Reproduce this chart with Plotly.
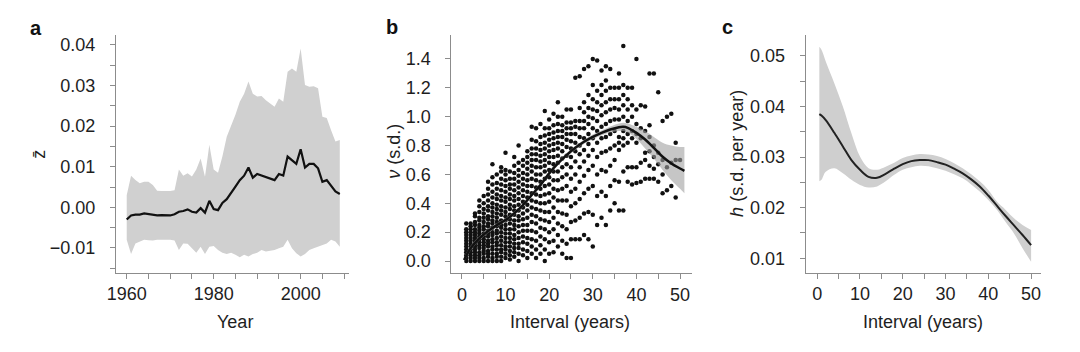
import plotly.graph_objects as go

# ---------------- Panel a data ----------------
years = [1960, 1961, 1962, 1963, 1964, 1965, 1966, 1967, 1968, 1969,
         1970, 1971, 1972, 1973, 1974, 1975, 1976, 1977, 1978, 1979,
         1980, 1981, 1982, 1983, 1984, 1985, 1986, 1987, 1988, 1989,
         1990, 1991, 1992, 1993, 1994, 1995, 1996, 1997, 1998, 1999,
         2000, 2001, 2002, 2003, 2004, 2005, 2006, 2007, 2008, 2009]
z_mean = [-0.0030, -0.0020, -0.0018, -0.0018, -0.0015, -0.0017, -0.0019, -0.0020, -0.0019, -0.0020,
          -0.0020, -0.0017, -0.0011, -0.0009, -0.0005, -0.0011, -0.0013, -0.0002, -0.0013, 0.0016,
          -0.0004, -0.0007, 0.0011, 0.0020, 0.0034, 0.0051, 0.0067, 0.0078, 0.0098, 0.0073,
          0.0082, 0.0078, 0.0075, 0.0072, 0.0067, 0.0082, 0.0078, 0.0125, 0.0117, 0.0107,
          0.0143, 0.0098, 0.0107, 0.0107, 0.0096, 0.0063, 0.0067, 0.0053, 0.0039, 0.0033]
z_upper = [0.0030, 0.0078, 0.0067, 0.0059, 0.0063, 0.0063, 0.0055, 0.0041, 0.0040, 0.0040,
           0.0040, 0.0042, 0.0093, 0.0078, 0.0084, 0.0076, 0.0093, 0.0120, 0.0075, 0.0154,
           0.0093, 0.0085, 0.0125, 0.0174, 0.0199, 0.0228, 0.0260, 0.0280, 0.0310, 0.0280,
           0.0273, 0.0274, 0.0264, 0.0256, 0.0248, 0.0268, 0.0260, 0.0334, 0.0342, 0.0334,
           0.0391, 0.0301, 0.0297, 0.0298, 0.0293, 0.0223, 0.0220, 0.0190, 0.0162, 0.0166]
z_lower = [-0.0080, -0.0115, -0.0089, -0.0085, -0.0080, -0.0081, -0.0082, -0.0080, -0.0080, -0.0080,
           -0.0080, -0.0082, -0.0105, -0.0089, -0.0090, -0.0101, -0.0112, -0.0097, -0.0115, -0.0097,
           -0.0095, -0.0105, -0.0112, -0.0115, -0.0112, -0.0117, -0.0123, -0.0117, -0.0121, -0.0115,
           -0.0112, -0.0105, -0.0109, -0.0107, -0.0105, -0.0101, -0.0097, -0.0080, -0.0101, -0.0113,
           -0.0121, -0.0115, -0.0105, -0.0101, -0.0097, -0.0093, -0.0089, -0.0080, -0.0084, -0.0097]

# ---------------- Panel b data ----------------
nu_by_interval = [
    [0.0, 0.02, 0.04, 0.06, 0.08, 0.10, 0.12, 0.14, 0.16, 0.18, 0.20, 0.22, 0.26],
    [0.0, 0.02, 0.04, 0.06, 0.08, 0.10, 0.12, 0.14, 0.16, 0.18, 0.20, 0.22, 0.24, 0.26],
    [0.0, 0.02, 0.04, 0.06, 0.08, 0.10, 0.12, 0.14, 0.16, 0.18, 0.20, 0.22, 0.25, 0.27, 0.31, 0.33],
    [0.0, 0.02, 0.04, 0.06, 0.09, 0.11, 0.13, 0.15, 0.17, 0.19, 0.21, 0.23, 0.25, 0.28, 0.30, 0.34, 0.38, 0.42],
    [0.0, 0.02, 0.05, 0.07, 0.09, 0.11, 0.13, 0.15, 0.17, 0.19, 0.22, 0.24, 0.27, 0.30, 0.33, 0.36, 0.40, 0.45],
    [0.0, 0.03, 0.05, 0.07, 0.10, 0.12, 0.14, 0.17, 0.19, 0.21, 0.24, 0.26, 0.29, 0.31, 0.35, 0.38, 0.42, 0.46, 0.50, 0.55],
    [0.0, 0.02, 0.05, 0.08, 0.10, 0.13, 0.15, 0.18, 0.20, 0.23, 0.26, 0.28, 0.31, 0.34, 0.37, 0.40, 0.44, 0.48, 0.53, 0.58, 0.67],
    [0.0, 0.03, 0.05, 0.08, 0.11, 0.13, 0.16, 0.19, 0.21, 0.24, 0.27, 0.30, 0.33, 0.36, 0.39, 0.43, 0.46, 0.50, 0.54, 0.60],
    [0.0, 0.03, 0.06, 0.08, 0.11, 0.14, 0.17, 0.20, 0.23, 0.25, 0.28, 0.32, 0.35, 0.38, 0.42, 0.45, 0.49, 0.53, 0.57, 0.62, 0.65],
    [0.02, 0.05, 0.08, 0.10, 0.13, 0.16, 0.19, 0.22, 0.25, 0.28, 0.31, 0.34, 0.37, 0.41, 0.44, 0.48, 0.52, 0.56, 0.60, 0.63, 0.75],
    [0.01, 0.04, 0.07, 0.10, 0.13, 0.16, 0.19, 0.22, 0.26, 0.29, 0.32, 0.36, 0.39, 0.43, 0.46, 0.50, 0.53, 0.57, 0.62],
    [0.03, 0.06, 0.09, 0.12, 0.15, 0.18, 0.22, 0.25, 0.28, 0.32, 0.35, 0.38, 0.42, 0.45, 0.49, 0.53, 0.57, 0.61, 0.66, 0.72],
    [0.0, 0.05, 0.09, 0.12, 0.16, 0.20, 0.24, 0.28, 0.31, 0.35, 0.39, 0.43, 0.47, 0.51, 0.55, 0.59, 0.63, 0.68, 0.80],
    [0.04, 0.08, 0.13, 0.17, 0.21, 0.25, 0.29, 0.33, 0.37, 0.41, 0.45, 0.49, 0.53, 0.57, 0.61, 0.66, 0.70],
    [0.02, 0.07, 0.12, 0.16, 0.21, 0.25, 0.30, 0.35, 0.39, 0.44, 0.48, 0.52, 0.56, 0.60, 0.64, 0.68, 0.72, 0.76],
    [0.05, 0.10, 0.15, 0.21, 0.27, 0.32, 0.37, 0.42, 0.47, 0.52, 0.57, 0.62, 0.66, 0.70, 0.74, 0.78, 0.84, 0.93],
    [0.02, 0.08, 0.14, 0.20, 0.26, 0.31, 0.36, 0.41, 0.46, 0.51, 0.56, 0.60, 0.65, 0.70, 0.74, 0.78, 0.83, 0.92],
    [0.05, 0.11, 0.17, 0.23, 0.29, 0.35, 0.40, 0.45, 0.50, 0.55, 0.60, 0.65, 0.69, 0.73, 0.77, 0.81, 0.86, 0.95],
    [0.0, 0.08, 0.15, 0.22, 0.28, 0.34, 0.40, 0.46, 0.52, 0.57, 0.62, 0.66, 0.70, 0.74, 0.78, 0.82, 0.87, 0.92, 1.04],
    [0.05, 0.13, 0.20, 0.27, 0.34, 0.41, 0.47, 0.53, 0.58, 0.63, 0.68, 0.72, 0.76, 0.80, 0.84, 0.88, 0.92, 0.98],
    [0.06, 0.14, 0.22, 0.30, 0.37, 0.44, 0.50, 0.56, 0.62, 0.67, 0.72, 0.77, 0.81, 0.85, 0.89, 0.94, 1.02],
    [0.10, 0.18, 0.26, 0.34, 0.42, 0.49, 0.56, 0.62, 0.68, 0.73, 0.78, 0.82, 0.86, 0.90, 0.95, 1.00, 1.10],
    [0.05, 0.14, 0.24, 0.33, 0.42, 0.50, 0.58, 0.65, 0.71, 0.76, 0.81, 0.86, 0.90, 0.94, 1.00],
    [0.02, 0.12, 0.22, 0.32, 0.42, 0.52, 0.60, 0.67, 0.73, 0.79, 0.84, 0.88, 0.92, 0.96, 1.05],
    [0.02, 0.15, 0.27, 0.38, 0.48, 0.57, 0.65, 0.72, 0.78, 0.83, 0.88, 0.92, 0.96, 1.05],
    [0.15, 0.28, 0.40, 0.50, 0.60, 0.69, 0.76, 0.82, 0.88, 0.93, 0.97, 1.27],
    [0.15, 0.30, 0.43, 0.55, 0.65, 0.74, 0.80, 0.86, 0.92, 0.97, 1.06, 1.28],
    [0.18, 0.33, 0.47, 0.59, 0.69, 0.77, 0.85, 0.92, 0.97, 1.03, 1.10, 1.33],
    [0.15, 0.34, 0.50, 0.63, 0.73, 0.81, 0.88, 0.95, 1.00, 1.06, 1.15, 1.35],
    [0.10, 0.32, 0.52, 0.66, 0.77, 0.85, 0.92, 0.99, 1.05, 1.12, 1.22, 1.40],
    [0.25, 0.45, 0.60, 0.72, 0.82, 0.90, 0.97, 1.04, 1.10, 1.18, 1.39],
    [0.30, 0.48, 0.63, 0.75, 0.85, 0.93, 1.01, 1.08, 1.15, 1.22, 1.32],
    [0.25, 0.45, 0.62, 0.76, 0.86, 0.95, 1.03, 1.10, 1.18, 1.25, 1.35],
    [0.35, 0.52, 0.66, 0.78, 0.88, 0.97, 1.05, 1.12, 1.20, 1.33],
    [0.40, 0.56, 0.70, 0.80, 0.90, 0.98, 1.06, 1.12, 1.20],
    [0.35, 0.55, 0.77, 0.82, 0.86, 0.98, 1.05, 1.12, 1.20, 1.30],
    [0.35, 0.62, 0.80, 0.85, 0.90, 1.00, 1.08, 1.15, 1.22, 1.49],
    [0.55, 0.65, 0.82, 0.88, 0.97, 1.05, 1.12, 1.20],
    [0.53, 0.65, 0.85, 0.90, 1.00, 1.08, 1.20],
    [0.54, 0.65, 0.82, 0.88, 0.95, 1.05, 1.40],
    [0.55, 0.68, 0.85, 0.92, 1.08],
    [0.57, 0.70, 0.75, 0.90, 1.07],
    [0.57, 0.66, 0.76, 0.86, 0.94, 1.30],
    [0.57, 0.64, 0.72, 0.80, 1.30],
    [0.55, 0.67, 0.75, 1.17],
    [0.47, 0.60, 0.70, 0.97],
    [0.49, 0.65, 1.00],
    [0.52, 0.68, 1.02],
    [0.44, 0.70, 0.82],
    [0.70],
]
intervals_b = [1, 2, 3, 4, 5, 6, 7, 8, 9, 10, 11, 12, 13, 14, 15, 16, 17, 18, 19, 20,
               21, 22, 23, 24, 25, 26, 27, 28, 29, 30, 31, 32, 33, 34, 35, 36, 37, 38, 39, 40,
               41, 42, 43, 44, 45, 46, 47, 48, 49, 50]

fit_x_b = [0.5, 2, 4, 6, 8, 10, 12, 14, 16, 18, 20, 22, 24, 26, 28, 30, 32, 34, 36, 37,
           38, 40, 42, 44, 46, 48, 50, 51]
fit_nu = [0.007, 0.088, 0.157, 0.208, 0.249, 0.284, 0.330, 0.388, 0.457, 0.526, 0.607, 0.676,
          0.734, 0.784, 0.826, 0.860, 0.888, 0.911, 0.927, 0.930, 0.923, 0.888, 0.842, 0.784,
          0.722, 0.676, 0.641, 0.625]
fit_nu_up = [0.027, 0.105, 0.172, 0.222, 0.262, 0.297, 0.343, 0.401, 0.470, 0.540, 0.620, 0.690,
             0.748, 0.798, 0.841, 0.876, 0.905, 0.932, 0.953, 0.958, 0.953, 0.930, 0.900, 0.860,
             0.820, 0.800, 0.790, 0.790]
fit_nu_lo = [-0.010, 0.071, 0.142, 0.194, 0.236, 0.271, 0.317, 0.375, 0.444, 0.512, 0.594, 0.662,
             0.720, 0.770, 0.811, 0.844, 0.870, 0.890, 0.900, 0.900, 0.890, 0.845, 0.780, 0.710,
             0.630, 0.560, 0.500, 0.470]

# ---------------- Panel c data ----------------
fit_x_c = [0.5, 1, 2, 4, 6, 8, 10, 12, 14, 16, 18, 20, 22, 24, 26, 28, 30, 32, 34, 36,
           38, 40, 42, 44, 46, 48, 50]
h_fit = [0.0385, 0.0382, 0.0373, 0.0348, 0.0321, 0.0294, 0.0275, 0.0261, 0.0259, 0.0267,
         0.0277, 0.0286, 0.0292, 0.0294, 0.0294, 0.0290, 0.0285, 0.0277, 0.0268, 0.0256,
         0.0242, 0.0224, 0.0204, 0.0184, 0.0165, 0.0146, 0.0126]
h_up = [0.0518, 0.0512, 0.0489, 0.0446, 0.0400, 0.0347, 0.0301, 0.0278, 0.0275, 0.0281,
        0.0289, 0.0298, 0.0303, 0.0306, 0.0305, 0.0302, 0.0296, 0.0288, 0.0278, 0.0266,
        0.0252, 0.0235, 0.0212, 0.0196, 0.0179, 0.0166, 0.0156]
h_lo = [0.0252, 0.0255, 0.0271, 0.0278, 0.0268, 0.0255, 0.0245, 0.0240, 0.0242, 0.0252,
        0.0265, 0.0275, 0.0280, 0.0283, 0.0282, 0.0278, 0.0273, 0.0266, 0.0258, 0.0246,
        0.0232, 0.0215, 0.0196, 0.0172, 0.0149, 0.0120, 0.0093]

# ---------------- Figure ----------------
W, H = 1080, 352
FONT = "Liberation Sans, Arial, Helvetica, sans-serif"
TXT = "#1e1e1e"
AX = "#8c8c8c"
FS = 18

scatter_x = []
scatter_y = []
for xv, col in zip(intervals_b, nu_by_interval):
    for yv in col:
        scatter_x.append(xv)
        scatter_y.append(yv)

fig = go.Figure()

# panel a
fig.add_trace(go.Scatter(x=years, y=z_lower, mode="lines", line=dict(width=0, color="#d0d0d0"),
                         xaxis="x", yaxis="y", showlegend=False, hoverinfo="skip"))
fig.add_trace(go.Scatter(x=years, y=z_upper, mode="lines", line=dict(width=0, color="#d0d0d0"),
                         fill="tonexty", fillcolor="#d0d0d0", xaxis="x", yaxis="y", showlegend=False))
fig.add_trace(go.Scatter(x=years, y=z_mean, mode="lines", line=dict(width=2.2, color="#111111"),
                         xaxis="x", yaxis="y", showlegend=False))

# panel b
fig.add_trace(go.Scatter(x=scatter_x, y=scatter_y, mode="markers",
                         marker=dict(size=4.5, color="#111111", line=dict(width=0)),
                         xaxis="x2", yaxis="y2", showlegend=False))
fig.add_trace(go.Scatter(x=fit_x_b, y=fit_nu_lo, mode="lines", line=dict(width=0, shape="spline"),
                         xaxis="x2", yaxis="y2", showlegend=False, hoverinfo="skip"))
fig.add_trace(go.Scatter(x=fit_x_b, y=fit_nu_up, mode="lines", line=dict(width=0, shape="spline"),
                         fill="tonexty", fillcolor="rgba(160,160,160,0.6)",
                         xaxis="x2", yaxis="y2", showlegend=False))
fig.add_trace(go.Scatter(x=fit_x_b, y=fit_nu, mode="lines", line=dict(width=2.5, color="#111111", shape="spline"),
                         xaxis="x2", yaxis="y2", showlegend=False))

# panel c
fig.add_trace(go.Scatter(x=fit_x_c, y=h_lo, mode="lines", line=dict(width=0, shape="spline"),
                         xaxis="x3", yaxis="y3", showlegend=False, hoverinfo="skip"))
fig.add_trace(go.Scatter(x=fit_x_c, y=h_up, mode="lines", line=dict(width=0, shape="spline"),
                         fill="tonexty", fillcolor="#cfcfcf", xaxis="x3", yaxis="y3", showlegend=False))
fig.add_trace(go.Scatter(x=fit_x_c, y=h_fit, mode="lines", line=dict(width=2, color="#222222", shape="spline"),
                         xaxis="x3", yaxis="y3", showlegend=False))


def ax_common(**kw):
    d = dict(showline=True, linecolor=AX, linewidth=1, ticks="outside", ticklen=5,
             tickcolor=AX, tickwidth=1, showgrid=False, zeroline=False,
             tickfont=dict(family=FONT, size=FS, color=TXT), fixedrange=True)
    d.update(kw)
    return d


def px_x(p):
    return p / W


def px_y(p):
    return 1 - p / H


a_xt = [1960, 1965, 1970, 1975, 1980, 1985, 1990, 1995, 2000, 2005, 2010]
a_xl = ["1960", "", "", "", "1980", "", "", "", "2000", "", ""]
a_yt = [-0.015, -0.01, -0.005, 0.0, 0.005, 0.01, 0.015, 0.02, 0.025, 0.03, 0.035, 0.04]
a_yl = ["", "\u22120.01", "", "0.00", "", "0.01", "", "0.02", "", "0.03", "", "0.04"]
b_xt = [0, 5, 10, 15, 20, 25, 30, 35, 40, 45, 50]
b_xl = ["0", "", "10", "", "20", "", "30", "", "40", "", "50"]
b_yt = [0.0, 0.2, 0.4, 0.6, 0.8, 1.0, 1.2, 1.4]
b_yl = ["0.0", "0.2", "0.4", "0.6", "0.8", "1.0", "1.2", "1.4"]
c_yt = [0.01, 0.015, 0.02, 0.025, 0.03, 0.035, 0.04, 0.045, 0.05]
c_yl = ["0.01", "", "0.02", "", "0.03", "", "0.04", "", "0.05"]

XSO = 0
YSO = 11

fig.update_layout(
    width=W, height=H, margin=dict(l=0, r=0, t=0, b=0),
    paper_bgcolor="white", plot_bgcolor="white",
    font=dict(family=FONT, color=TXT),
    xaxis=ax_common(domain=[px_x(107.7), px_x(343)], range=[1957.49, 2011.15],
                    tickvals=a_xt, ticktext=a_xl, anchor="y", ticklabelstandoff=XSO),
    yaxis=ax_common(domain=[px_y(272.7), px_y(35)], range=[-0.0161, 0.04244],
                    tickvals=a_yt, ticktext=a_yl, anchor="x", ticklabelstandoff=YSO),
    xaxis2=ax_common(domain=[px_x(446), px_x(688.3)], range=[-2.43, 52.64],
                     tickvals=b_xt, ticktext=b_xl, anchor="y2", ticklabelstandoff=XSO),
    yaxis2=ax_common(domain=[px_y(273.3), px_y(35)], range=[-0.0852, 1.566],
                     tickvals=b_yt, ticktext=b_yl, anchor="x2", ticklabelstandoff=YSO),
    xaxis3=ax_common(domain=[px_x(803.3), px_x(1040.7)], range=[-2.71, 52.32],
                     tickvals=b_xt, ticktext=b_xl, anchor="y3", ticklabelstandoff=XSO),
    yaxis3=ax_common(domain=[px_y(272.7), px_y(35)], range=[0.00715, 0.05413],
                     tickvals=c_yt, ticktext=c_yl, anchor="x3", ticklabelstandoff=YSO),
)

ann = []


def add_text(text, x, y, size=FS, bold=False, angle=0):
    ann.append(dict(text=("<b>%s</b>" % text) if bold else text, x=px_x(x), y=px_y(y),
                    xref="paper", yref="paper", xanchor="center", yanchor="middle",
                    showarrow=False, textangle=angle,
                    font=dict(family=FONT, size=size, color="#111111" if bold else TXT)))


add_text("a", 27, 28, size=20, bold=True)
add_text("b", 386, 27, size=20, bold=True)
add_text("c", 725, 27, size=20, bold=True)
add_text("Year", 228, 322)
add_text("Interval (years)", 566, 322)
add_text("Interval (years)", 922, 322)
add_text("z\u0304", 30, 154, angle=-90)
add_text("<i>\u03bd</i> (s.d.)", 388, 151, angle=-90)
add_text("<i>h</i> (s.d. per year)", 734, 153, angle=-90)
fig.update_layout(annotations=ann)

fig.write_html("out.html")
